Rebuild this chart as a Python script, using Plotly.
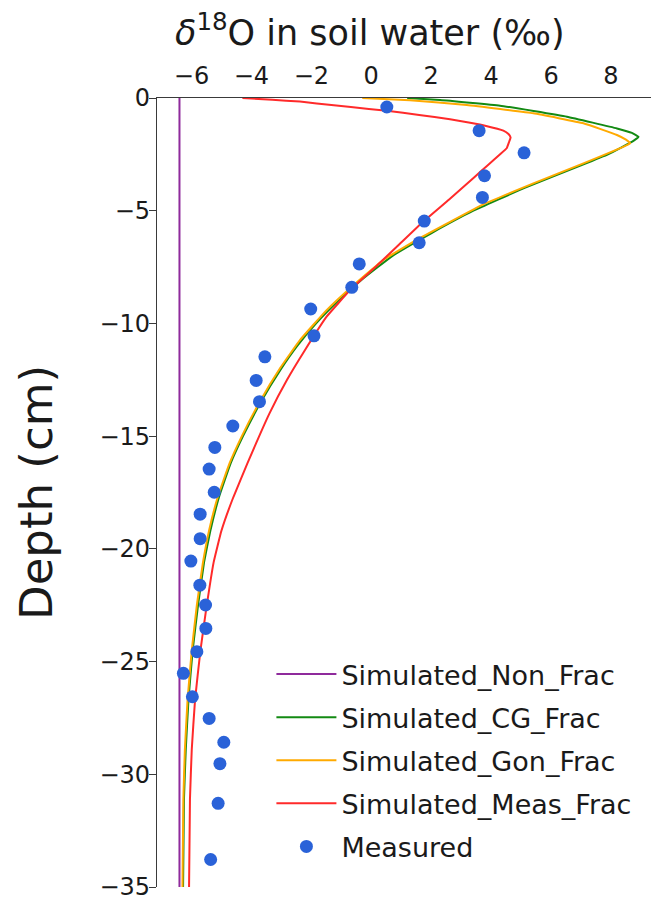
import plotly.graph_objects as go

# ---- data ----
non_frac_depth = [0, -35]
non_frac_d18o = [-6.4, -6.4]

cg_depth = [0, -0.09, -0.34, -0.83, -1.35, -1.55, -1.72, -1.9, -2.5, -3.0, -4.0, -5.0, -6.0, -7.0,
            -8.0, -9.0, -10.0, -11.0, -12.0, -13.5, -15.0, -16.2, -17.7, -19.2, -20.6, -22.5,
            -24.5, -26.7, -28.9, -31.1, -35]
cg_d18o = [1.2, 2.3, 4.3, 6.53, 8.2, 8.7, 8.92, 8.75, 7.9, 6.98, 5.1, 3.41, 2.0, 0.71,
           -0.26, -1.1, -1.84, -2.47, -3.0, -3.69, -4.28, -4.69, -5.08, -5.37, -5.58, -5.78,
           -5.96, -6.10, -6.19, -6.25, -6.28]

gon_depth = [0, -0.1, -0.31, -0.68, -1.12, -1.64, -1.85, -2.01, -2.2, -2.9, -3.79, -4.72, -6.23,
             -7.19, -8.37, -9.41, -10.74, -12.0, -13.47, -15.03, -16.21, -17.69, -19.17,
             -20.64, -22.5, -24.5, -26.7, -28.9, -31.1, -35]
gon_d18o = [-0.3, 1.29, 3.19, 5.41, 7.08, 8.2, 8.5, 8.64, 8.35, 7.08, 5.41, 3.74, 1.60,
            0.40, -0.65, -1.49, -2.38, -3.05, -3.72, -4.33, -4.73, -5.12, -5.41,
            -5.62, -5.82, -5.99, -6.13, -6.22, -6.27, -6.30]

meas_frac_depth = [0, -0.08, -0.16, -0.24, -0.4, -0.57, -0.75, -0.94, -1.1, -1.23, -1.45, -1.6,
                   -1.75, -1.95, -2.23, -2.5, -3.0, -3.5, -4.5, -5.5, -6.5, -7.5, -8.5, -9.7,
                   -11.2, -12.5, -14.0, -16.2, -17.7, -19.2, -20.6, -22.6, -24.5, -26.7,
                   -28.9, -31.1, -35]
meas_frac_d18o = [-4.3, -3.3, -2.38, -1.82, -0.68, 0.52, 1.6, 2.63, 3.3, 3.8, 4.41, 4.58,
                  4.65, 4.6, 4.52, 4.3, 3.87, 3.45, 2.6, 1.72, 0.93, 0.14, -0.69, -1.49,
                  -2.22, -2.81, -3.40, -4.13, -4.6, -5.0, -5.26, -5.5, -5.7, -5.88,
                  -5.99, -6.05, -6.08]

measured_depth = [-0.4, -1.45, -2.43, -3.45, -4.41, -5.46, -6.42, -7.36, -8.40, -9.36, -10.55,
                  -11.48, -12.53, -13.47, -14.55, -15.50, -16.46, -17.49, -18.46, -19.55,
                  -20.54, -21.61, -22.49, -23.53, -24.56, -25.52, -26.56, -27.52, -28.58,
                  -29.53, -31.29, -33.78]
measured_d18o = [0.52, 3.60, 5.10, 3.78, 3.71, 1.77, 1.60, -0.40, -0.65, -2.02, -1.91,
                 -3.55, -3.84, -3.73, -4.62, -5.22, -5.41, -5.24, -5.71, -5.71,
                 -6.02, -5.72, -5.53, -5.52, -5.82, -6.27, -5.97, -5.41, -4.92,
                 -5.05, -5.11, -5.36]

x_ticks = [-6, -4, -2, 0, 2, 4, 6, 8]
y_ticks = [0, -5, -10, -15, -20, -25, -30, -35]
x_range = [-7.15, 9.67]
y_range = [-35, 0]

FONT = "DejaVu Sans"
AXIS_COLOR = "#3a3a3a"

fig = go.Figure()
series = [
    ("Simulated_Non_Frac", non_frac_d18o, non_frac_depth, "#8f2a9c"),
    ("Simulated_CG_Frac", cg_d18o, cg_depth, "#138a13"),
    ("Simulated_Gon_Frac", gon_d18o, gon_depth, "#ffaa00"),
    ("Simulated_Meas_Frac", meas_frac_d18o, meas_frac_depth, "#ff2a2a"),
]
for i, (name, xs, ys, col) in enumerate(series):
    fig.add_trace(go.Scatter(
        x=xs, y=ys, mode="lines", name=name, legendgroup=f"g{i}",
        line=dict(color=col, width=2, shape="spline", smoothing=0.3),
    ))
fig.add_trace(go.Scatter(
    x=measured_d18o, y=measured_depth, mode="markers", name="Measured", legendgroup="g5",
    marker=dict(color="#2a62d8", size=13),
))

fig.update_layout(
    width=659, height=902,
    margin=dict(l=149, r=6, t=90, b=23),
    paper_bgcolor="white", plot_bgcolor="white",
    font=dict(family=FONT, color="#1a1a1a", size=24),
    showlegend=True,
    legend=dict(
        x=0.227, y=0.3004, xanchor="left", yanchor="top",
        bgcolor="rgba(0,0,0,0)", borderwidth=0,
        font=dict(family=FONT, size=27, color="#1a1a1a"),
        traceorder="grouped", tracegroupgap=5, itemwidth=60,
    ),
    xaxis=dict(
        side="top", range=x_range, tickvals=x_ticks, ticks="",
        showline=True, linecolor=AXIS_COLOR, linewidth=1.3,
        showgrid=False, zeroline=False, ticklabelstandoff=3,
        tickfont=dict(size=24), automargin=False,
    ),
    xaxis2=dict(
        overlaying="x", side="bottom", anchor="y", range=x_range, tickvals=x_ticks,
        ticks="outside", ticklen=6, tickcolor=AXIS_COLOR, tickwidth=1.3,
        showticklabels=False, showline=True, linecolor=AXIS_COLOR, linewidth=1.3,
        showgrid=False, zeroline=False, automargin=False,
    ),
    yaxis=dict(
        range=y_range, tickvals=y_ticks, ticks="outside", ticklen=7,
        tickcolor=AXIS_COLOR, tickwidth=1.3,
        showline=True, linecolor=AXIS_COLOR, linewidth=1.3,
        showgrid=False, zeroline=False, tickfont=dict(size=24), automargin=False,
        ticklabelstandoff=-6,
        title=dict(text="Depth (cm)", font=dict(size=45), standoff=32),
    ),
    annotations=[dict(
        text="<i>δ</i><sup>18</sup>O in soil water (‰)",
        xref="paper", yref="paper", x=0.4226, y=1.086,
        xanchor="center", yanchor="middle", showarrow=False,
        font=dict(family=FONT, size=35, color="#1a1a1a"),
    )],
)

fig.write_html("out.html")
